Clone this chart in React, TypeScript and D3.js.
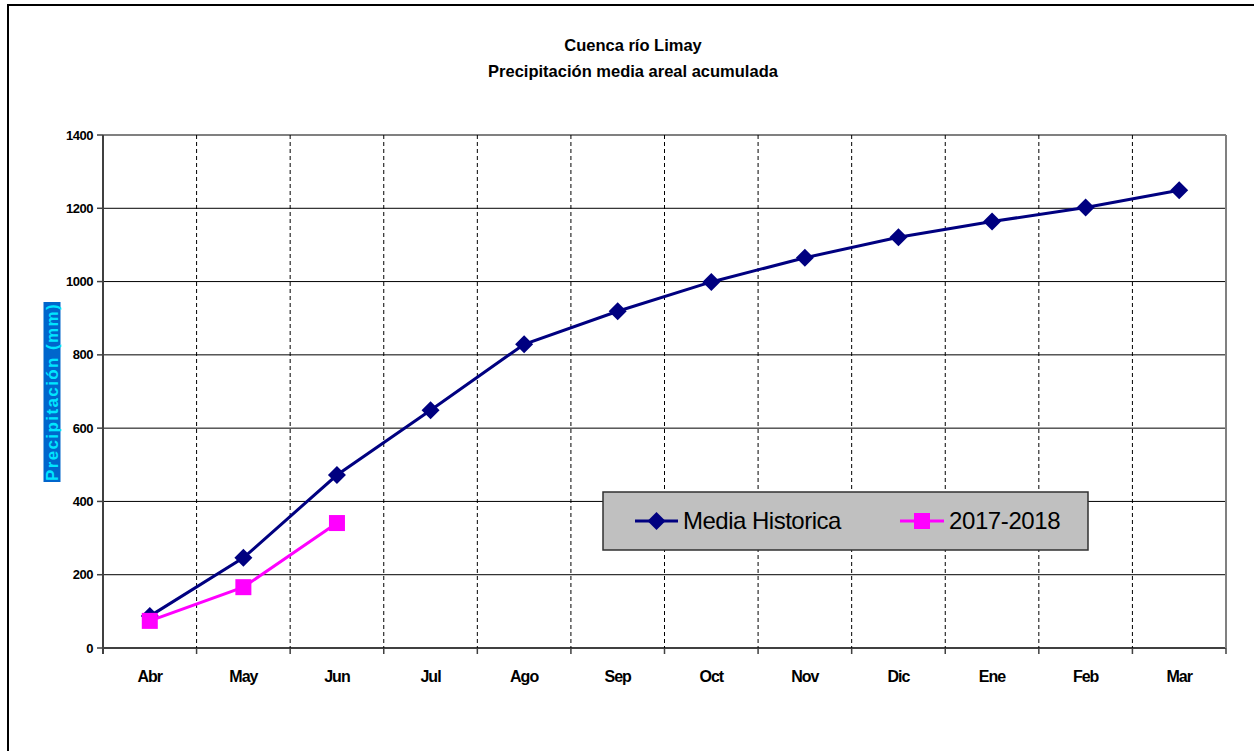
import React from "react";
import * as d3 from "d3";

const months = ["Abr", "May", "Jun", "Jul", "Ago", "Sep", "Oct", "Nov", "Dic", "Ene", "Feb", "Mar"];
const mediaHistorica = [87, 246, 472, 649, 829, 919, 999, 1065, 1121, 1164, 1202, 1249];
const temporada = [74, 166, 341];
const yTicks = [0, 200, 400, 600, 800, 1000, 1200, 1400];
const titleLines = ["Cuenca río Limay", "Precipitación media areal acumulada"];
const seriesNames = ["Media Historica", "2017-2018"];

export default function App() {
  const W = 1254, H = 751;
  const left = 103, right = 1226, top = 135, bottom = 648;
  const x = d3.scaleBand<string>().domain(months).range([left, right]).padding(0);
  const y = d3.scaleLinear().domain([0, 1400]).range([bottom, top]);
  const cx = (m: string) => (x(m) as number) + x.bandwidth() / 2;
  const line = d3.line<[number, number]>().x(d => d[0]).y(d => d[1]);
  const histPts: [number, number][] = mediaHistorica.map((v, i) => [cx(months[i]), y(v)]);
  const tempPts: [number, number][] = temporada.map((v, i) => [cx(months[i]), y(v)]);
  const boundaries = months.map((m) => x(m) as number).slice(1);
  const font = "Arial, 'Liberation Sans', sans-serif";
  const diamond = (px: number, py: number, r: number) =>
    `M${px},${py - r}L${px + r},${py}L${px},${py + r}L${px - r},${py}Z`;

  return (
    <svg width={W} height={H} style={{ position: "absolute", left: 0, top: 0, display: "block" }}
      fontFamily={font}>
      <rect x={0} y={0} width={W} height={H} fill="#fff" />
      <rect x={8} y={5} width={W + 20} height={H + 20} fill="none" stroke="#000" strokeWidth={2} />
      {titleLines.map((t, i) => (
        <text key={i} x={633} y={51 + i * 26} textAnchor="middle" fontSize={16.5} fontWeight="bold"
          letterSpacing={0}>{t}</text>
      ))}
      {/* horizontal grid */}
      {yTicks.map(t => (
        <line key={"h" + t} x1={left} x2={right} y1={y(t)} y2={y(t)}
          stroke={t === 1400 ? "#808080" : t === 0 ? "#404040" : "#000"} strokeWidth={t === 1400 || t === 0 ? 2 : 1} />
      ))}
      {/* vertical dashed grid */}
      {boundaries.map((b, i) => (
        <line key={"v" + i} x1={b} x2={b} y1={top} y2={bottom} stroke="#000" strokeWidth={1}
          strokeDasharray="4,3" />
      ))}
      <line x1={right} x2={right} y1={top} y2={bottom} stroke="#808080" strokeWidth={2} />
      <line x1={left} x2={left} y1={top} y2={bottom + 6} stroke="#404040" strokeWidth={2} />
      {/* y ticks */}
      {yTicks.map(t => (
        <g key={"yt" + t}>
          <line x1={left - 6} x2={left} y1={y(t)} y2={y(t)} stroke="#404040" strokeWidth={1.5} />
          <text x={93} y={y(t) + 4.5} textAnchor="end" fontSize={13} fontWeight="bold" letterSpacing={-0.5}>{t}</text>
        </g>
      ))}
      {/* x ticks */}
      {[...boundaries, right].map((b, i) => (
        <line key={"xt" + i} x1={b} x2={b} y1={bottom} y2={bottom + 6} stroke="#404040" strokeWidth={1.5} />
      ))}
      {months.map(m => (
        <text key={m} x={cx(m)} y={682} textAnchor="middle" fontSize={16} fontWeight="bold"
          letterSpacing={-1}>{m}</text>
      ))}
      {/* y axis title */}
      <g transform="translate(52,392) rotate(-90)">
        <rect x={-90} y={-8.5} width={180} height={17} fill="#0066cc" />
        <text x={0} y={6} textAnchor="middle" fontSize={17} fontWeight="bold" fill="#00e5ff"
          letterSpacing={1.4}>Precipitación (mm)</text>
      </g>
      {/* series */}
      <path d={line(histPts) as string} fill="none" stroke="#000080" strokeWidth={3} />
      {histPts.map((p, i) => (
        <path key={"d" + i} d={diamond(p[0], p[1], 9)} fill="#000080" />
      ))}
      <path d={line(tempPts) as string} fill="none" stroke="#ff00ff" strokeWidth={3} />
      {tempPts.map((p, i) => (
        <rect key={"s" + i} x={p[0] - 8} y={p[1] - 8} width={16} height={16} fill="#ff00ff" />
      ))}
      {/* legend */}
      <rect x={603} y={492} width={485} height={58} fill="#c0c0c0" stroke="#303030" strokeWidth={1.5} />
      <line x1={635} x2={678} y1={521} y2={521} stroke="#000080" strokeWidth={3} />
      <path d={diamond(656.5, 521, 9)} fill="#000080" />
      <text x={683} y={529} fontSize={24} letterSpacing={-0.5}>{seriesNames[0]}</text>
      <line x1={900} x2={944} y1={521} y2={521} stroke="#ff00ff" strokeWidth={3} />
      <rect x={914} y={513} width={16} height={16} fill="#ff00ff" />
      <text x={949} y={529} fontSize={24} letterSpacing={-0.4}>{seriesNames[1]}</text>
    </svg>
  );
}
